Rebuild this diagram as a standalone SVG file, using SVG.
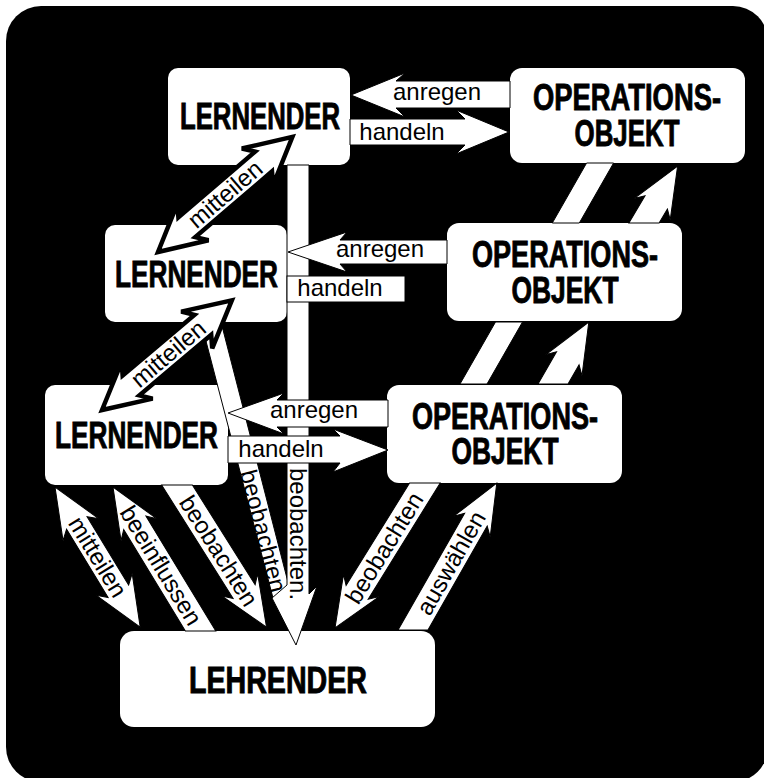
<svg xmlns="http://www.w3.org/2000/svg" width="764" height="778" viewBox="0 0 764 778">
  <style>
    .box { fill: #fff; }
    .nt { font-family: "Liberation Sans", Arial, sans-serif; font-weight: bold; font-size: 36px; text-anchor: middle; fill: #000; stroke: #000; stroke-width: 0.9; }
    .conn polygon, .conn rect { fill: #fff; stroke: #000; stroke-width: 1; stroke-linejoin: miter; }
    .conn .thick { stroke-width: 4.5; }
    .lbl { font-family: "Liberation Sans", Arial, sans-serif; font-size: 24px; text-anchor: middle; fill: #000; }
  </style>

  <!-- backdrop -->
  <rect x="0" y="0" width="764" height="778" fill="#fff"/>
  <rect x="6" y="6" width="762" height="776" rx="35" fill="#000"/>

  <!-- nodes -->
  <g id="lernender-1">
    <rect class="box" x="168" y="68" width="182" height="97" rx="10"/>
    <text class="nt" x="260" y="129" textLength="160" lengthAdjust="spacingAndGlyphs">LERNENDER</text>
  </g>
  <g id="lernender-2">
    <rect class="box" x="105" y="225" width="182" height="97" rx="10"/>
    <text class="nt" x="196.5" y="287" textLength="163" lengthAdjust="spacingAndGlyphs">LERNENDER</text>
  </g>
  <g id="lernender-3">
    <rect class="box" x="45" y="385" width="183" height="100" rx="10"/>
    <text class="nt" x="136.5" y="448" textLength="163" lengthAdjust="spacingAndGlyphs">LERNENDER</text>
  </g>
  <g id="operationsobjekt-1">
    <rect class="box" x="510" y="68" width="235" height="95" rx="12"/>
    <text class="nt" x="627" y="110" font-size="35" textLength="188" lengthAdjust="spacingAndGlyphs">OPERATIONS-</text>
    <text class="nt" x="627" y="146" font-size="35" textLength="105" lengthAdjust="spacingAndGlyphs">OBJEKT</text>
  </g>
  <g id="operationsobjekt-2">
    <rect class="box" x="447" y="223" width="235" height="98" rx="12"/>
    <text class="nt" x="565" y="267" font-size="35" textLength="186" lengthAdjust="spacingAndGlyphs">OPERATIONS-</text>
    <text class="nt" x="565" y="303" font-size="35" textLength="107" lengthAdjust="spacingAndGlyphs">OBJEKT</text>
  </g>
  <g id="operationsobjekt-3">
    <rect class="box" x="387" y="385" width="235" height="98" rx="12"/>
    <text class="nt" x="505" y="429" font-size="35" textLength="186" lengthAdjust="spacingAndGlyphs">OPERATIONS-</text>
    <text class="nt" x="505" y="464" font-size="35" textLength="107" lengthAdjust="spacingAndGlyphs">OBJEKT</text>
  </g>
  <g id="lehrender">
    <rect class="box" x="120" y="631" width="315" height="96" rx="14"/>
    <text class="nt" x="278" y="693" font-size="39" textLength="178" lengthAdjust="spacingAndGlyphs">LEHRENDER</text>
  </g>

  <!-- connectors -->
  <g id="connectors" class="conn">
    <!-- beobachten: Lernender 2 -> Lehrender (joins the vertical shaft) -->
    <polygon points="201,322 221,322 290,590 273,598"/>
    <text class="lbl" transform="translate(263 531) rotate(75.6)" y="8">beobachten</text>

    <!-- beobachten: Lernender 1 -> Lehrender (vertical) -->
    <polygon points="287,165 309,165 309,594 317,586 296,645 272,598 287,585"/>
    <text class="lbl" transform="translate(298 534) rotate(90)" y="8">beobachten.</text>

    <!-- Lernender 1 <-> Operationsobjekt 1 -->
    <polygon points="351,95 405,73 396,81 510,81 510,108 396,108 405,117"/>
    <text class="lbl" x="437" y="100">anregen</text>
    <polygon points="350,119 465,119 456,110 509,132 456,154 465,145 350,145"/>
    <text class="lbl" x="402" y="140">handeln</text>

    <!-- Lernender 2 <-> Operationsobjekt 2 -->
    <polygon points="288,252 347,232 340,240 447,240 447,264 340,264 347,272"/>
    <text class="lbl" x="380" y="257">anregen</text>
    <rect x="287" y="276" width="118" height="26"/>
    <text class="lbl" x="340" y="296">handeln</text>

    <!-- Lernender 3 <-> Operationsobjekt 3 -->
    <polygon points="228,413 284,393 277,400 388,400 388,427 277,427 284,434"/>
    <text class="lbl" x="314" y="418">anregen</text>
    <polygon points="228,436 340,436 333,429 388,450 333,472 340,463 228,463"/>
    <text class="lbl" x="281" y="457">handeln</text>

    <!-- Operationsobjekt 3 -> Operationsobjekt 1 (passes behind Operationsobjekt 2) -->
    <polygon points="460,384 487,384 522.5,322 495.5,322"/>
    <polygon points="552.3,223 579.3,223 613.6,163 586.6,163"/>

    <!-- Operationsobjekt 3 -> Operationsobjekt 2 -->
    <g transform="translate(553 384) rotate(-60)">
      <polygon points="-7.5,-13 29.6,-13 21.6,-21 71.6,0 21.6,21 29.6,13 7.5,13"/>
    </g>
    <!-- Operationsobjekt 2 -> Operationsobjekt 1 -->
    <g transform="translate(644 223) rotate(-59.4)">
      <polygon points="-7.7,-13 24,-13 16,-21 66,0 16,21 24,13 7.7,13"/>
    </g>

    <!-- Lernender 3 <-> Lehrender -->
    <g transform="translate(55 487) rotate(58.7)">
      <polygon points="42,-12 122,-12 114,-21 164,0 114,21 122,12 42,12 50,21 0,0 50,-21"/>
      <text class="lbl" x="82" y="8">mitteilen</text>
    </g>
    <g transform="translate(113 487) rotate(58.7)">
      <polygon points="0,0 50,-21 42,-13 176.5,-13 160.7,13 42,13 50,21"/>
      <text class="lbl" x="92" y="8">beeinflussen</text>
    </g>
    <g transform="translate(177 485) rotate(57.8)">
      <polygon points="8.2,-13 126,-13 118,-21 168,0 118,21 126,13 -8.2,13"/>
      <text class="lbl" x="78" y="8">beobachten</text>
    </g>

    <!-- Lehrender <-> Operationsobjekt 3 -->
    <g transform="translate(335 628) rotate(-58.2)">
      <polygon points="0,0 50,-21 42,-13 162.5,-13 178.7,13 42,13 50,21"/>
      <text class="lbl" x="94" y="8">beobachten</text>
    </g>
    <g transform="translate(413 630) rotate(-60.3)">
      <polygon points="-7.4,-13 127,-13 119,-21 169,0 119,21 127,13 7.4,13"/>
      <text class="lbl" x="77" y="8">auswählen</text>
    </g>

    <!-- mitteilen between the Lernenden -->
    <g transform="translate(158 252) rotate(-40.6)">
      <polygon class="thick" points="38,-13 139,-13 131,-24 177,0 131,24 139,13 38,13 46,24 0,0 46,-24"/>
      <text class="lbl" x="88.5" y="8">mitteilen</text>
    </g>
    <g transform="translate(102 410) rotate(-40.2)">
      <polygon class="thick" points="38,-13 132,-13 124,-24 170,0 124,24 132,13 38,13 46,24 0,0 46,-24"/>
      <text class="lbl" x="87" y="8">mitteilen</text>
    </g>
  </g>
</svg>
